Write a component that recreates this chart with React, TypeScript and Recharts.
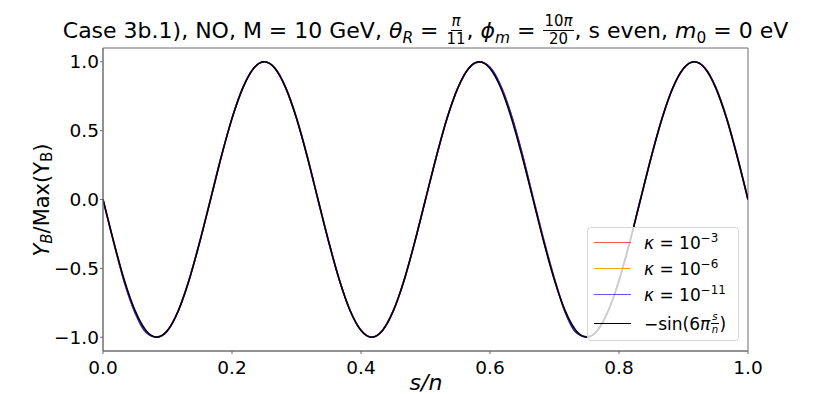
import React from 'react';
import { LineChart, Line, XAxis, YAxis, Customized, ReferenceArea } from 'recharts';

const FONT = "'DejaVu Sans', sans-serif";

// s/n sample positions
const xs = [
  0, 0.0167, 0.0333, 0.05, 0.0667, 0.0833, 0.1, 0.1167, 0.1333, 0.15,
  0.1667, 0.1833, 0.2, 0.2167, 0.2333, 0.25, 0.2667, 0.2833, 0.3, 0.3167,
  0.3333, 0.35, 0.3667, 0.3833, 0.4, 0.4167, 0.4333, 0.45, 0.4667, 0.4833,
  0.5, 0.5167, 0.5333, 0.55, 0.5667, 0.5833, 0.6, 0.6167, 0.6333, 0.65,
  0.6667, 0.6833, 0.7, 0.7167, 0.7333, 0.75, 0.7667, 0.7833, 0.8, 0.8167,
  0.8333, 0.85, 0.8667, 0.8833, 0.9, 0.9167, 0.9333, 0.95, 0.9667, 0.9833,
  1.0,
];

// kappa = 1e-3
const kappa3 = [
  0, -0.312, -0.6, -0.822, -0.962, -0.999, -0.952, -0.808, -0.586, -0.307,
  0, 0.31, 0.589, 0.81, 0.951, 1, 0.953, 0.812, 0.592, 0.312,
  0, -0.308, -0.588, -0.808, -0.95, -1, -0.951, -0.809, -0.588, -0.309,
  0, 0.309, 0.588, 0.808, 0.95, 0.999, 0.958, 0.822, 0.606, 0.326,
  0.012, -0.296, -0.578, -0.817, -0.962, -0.997, -0.949, -0.808, -0.588, -0.309,
  0, 0.309, 0.588, 0.809, 0.951, 1, 0.954, 0.814, 0.594, 0.314,
  0,
];

// kappa = 1e-6
const kappa6 = [
  0, -0.312, -0.601, -0.823, -0.963, -0.999, -0.952, -0.808, -0.586, -0.307,
  0, 0.31, 0.589, 0.81, 0.951, 1, 0.953, 0.812, 0.592, 0.312,
  0, -0.308, -0.588, -0.808, -0.95, -1, -0.951, -0.809, -0.588, -0.309,
  0, 0.309, 0.588, 0.808, 0.95, 0.999, 0.958, 0.823, 0.607, 0.327,
  0.012, -0.296, -0.578, -0.818, -0.963, -0.997, -0.949, -0.808, -0.588, -0.309,
  0, 0.309, 0.588, 0.809, 0.951, 1, 0.954, 0.814, 0.594, 0.314,
  0,
];

// kappa = 1e-11
const kappa11 = [
  0, -0.313, -0.603, -0.826, -0.965, -0.999, -0.952, -0.807, -0.586, -0.306,
  0, 0.31, 0.589, 0.81, 0.951, 1, 0.953, 0.813, 0.593, 0.313,
  0, -0.308, -0.588, -0.808, -0.95, -1, -0.951, -0.809, -0.588, -0.309,
  0, 0.309, 0.588, 0.808, 0.95, 0.999, 0.96, 0.826, 0.61, 0.33,
  0.014, -0.294, -0.577, -0.82, -0.965, -0.997, -0.949, -0.808, -0.588, -0.309,
  0, 0.309, 0.588, 0.809, 0.951, 1, 0.955, 0.815, 0.595, 0.315,
  0,
];

// -sin(6 pi s/n)
const sineRef = [
  0, -0.309, -0.588, -0.809, -0.951, -1, -0.951, -0.809, -0.588, -0.309,
  0, 0.309, 0.588, 0.809, 0.951, 1, 0.951, 0.809, 0.588, 0.309,
  0, -0.309, -0.588, -0.809, -0.951, -1, -0.951, -0.809, -0.588, -0.309,
  0, 0.309, 0.588, 0.809, 0.951, 1, 0.951, 0.809, 0.588, 0.309,
  0, -0.309, -0.588, -0.809, -0.951, -1, -0.951, -0.809, -0.588, -0.309,
  0, 0.309, 0.588, 0.809, 0.951, 1, 0.951, 0.809, 0.588, 0.309,
  0,
];

const xTicks = [0, 0.2, 0.4, 0.6, 0.8, 1.0];
const yTicks = [-1, -0.5, 0, 0.5, 1];
const xDomain: [number, number] = [0, 1];
const yDomain: [number, number] = [-1.1, 1.1];

const data = xs.map((x, i) => ({
  x,
  k3: kappa3[i],
  k6: kappa6[i],
  k11: kappa11[i],
  ref: sineRef[i],
}));

const fmt = (v: number) => {
  const s = Math.abs(v).toFixed(1);
  return v < 0 ? '\u2212' + s : s;
};

const AXIS_COLOR = '#6e6e6e';

const Frac = ({ n, d, size = 0.68 }: { n: React.ReactNode; d: React.ReactNode; size?: number }) => (
  <span
    style={{
      display: 'inline-flex',
      flexDirection: 'column',
      alignItems: 'center',
      verticalAlign: 'middle',
      fontSize: `${size}em`,
      lineHeight: 1,
      margin: '0 1px',
      position: 'relative',
      top: '-0.15em',
    }}
  >
    <span style={{ borderBottom: '1px solid black', padding: '0 1px 1px' }}>{n}</span>
    <span style={{ paddingTop: 1 }}>{d}</span>
  </span>
);

const Sub = ({ children }: { children: React.ReactNode }) => (
  <span style={{ fontSize: '0.7em', position: 'relative', top: '0.3em' }}>{children}</span>
);

const Sup = ({ children }: { children: React.ReactNode }) => (
  <span style={{ fontSize: '0.7em', position: 'relative', top: '-0.55em' }}>{children}</span>
);

const I = ({ children }: { children: React.ReactNode }) => <span style={{ fontStyle: 'italic' }}>{children}</span>;

const legendItems = [
  { color: 'rgba(255,0,0,0.65)', label: <><I>κ</I> = 10<Sup>−3</Sup></> },
  { color: 'rgb(255,165,0)', label: <><I>κ</I> = 10<Sup>−6</Sup></> },
  { color: 'rgba(0,0,255,0.65)', label: <><I>κ</I> = 10<Sup>−11</Sup></> },
  { color: '#000', label: <>−sin(6<I>π</I><Frac n={<I>s</I>} d={<I>n</I>} size={0.6} />)</> },
];
const legendRows = [15, 41, 67, 96];

const Labels = () => (
  <g fontFamily={FONT} fill="#000">
    <text transform="translate(34,192) rotate(-90)" textAnchor="middle" dominantBaseline="central" fontSize={21}>
      <tspan fontStyle="italic">Y</tspan>
      <tspan fontStyle="italic" fontSize={15} dy={5}>B</tspan>
      <tspan dy={-5}>/Max(Y</tspan>
      <tspan fontSize={15} dy={5}>B</tspan>
      <tspan dy={-5}>)</tspan>
    </text>
    <text x={418} y={382} textAnchor="middle" fontSize={22} fontStyle="italic">
      s/n
    </text>
  </g>
);

export default function App() {
  return (
    <div style={{ position: 'relative', width: 815, height: 386, fontFamily: FONT }}>
      <LineChart
        width={815}
        height={386}
        data={data}
        margin={{ top: 40, right: 75, left: 0, bottom: 0 }}
      >
        <XAxis
          dataKey="x"
          type="number"
          domain={xDomain}
          ticks={xTicks}
          tickFormatter={fmt}
          allowDataOverflow
          height={43}
          tickSize={3}
          tickMargin={7}
          stroke={AXIS_COLOR}
          tick={{ fill: '#000', fontSize: 18.5, fontFamily: FONT }}
        />
        <YAxis
          type="number"
          domain={yDomain}
          ticks={yTicks}
          tickFormatter={fmt}
          allowDataOverflow
          width={95}
          tickSize={3}
          tickMargin={1}
          stroke={AXIS_COLOR}
          tick={{ fill: '#000', fontSize: 18.5, fontFamily: FONT }}
        />
        <ReferenceArea
          x1={xDomain[0]}
          x2={xDomain[1]}
          y1={yDomain[0]}
          y2={yDomain[1]}
          fill="none"
          stroke={AXIS_COLOR}
          strokeWidth={1}
          ifOverflow="visible"
        />
        <Line dataKey="k3" type="monotone" stroke="red" strokeOpacity={0.7} strokeWidth={1.6} dot={false} isAnimationActive={false} />
        <Line dataKey="k6" type="monotone" stroke="orange" strokeWidth={1.6} dot={false} isAnimationActive={false} />
        <Line dataKey="k11" type="monotone" stroke="blue" strokeOpacity={0.8} strokeWidth={1.6} dot={false} isAnimationActive={false} />
        <Line dataKey="ref" type="monotone" stroke="#000" strokeWidth={1.5} dot={false} isAnimationActive={false} />
        <Customized component={Labels} />
      </LineChart>

      <div
        style={{
          position: 'absolute',
          left: 95,
          width: 645,
          top: 8,
          display: 'flex',
          justifyContent: 'center',
          whiteSpace: 'nowrap',
          fontSize: 22,
          lineHeight: '28px',
          color: '#000',
        }}
      >
        <span>
          Case 3b.1), NO, M = 10 GeV, <I>θ</I><Sub><I>R</I></Sub> = <Frac n={<I>π</I>} d="11" />, <I>ϕ</I>
          <Sub><I>m</I></Sub> = <Frac n={<>10<I>π</I></>} d="20" />, s even, <I>m</I><Sub>0</Sub> = 0 eV
        </span>
      </div>

      <div
        style={{
          position: 'absolute',
          left: 579,
          top: 219,
          width: 152,
          height: 114,
          boxSizing: 'border-box',
          background: 'rgba(255,255,255,0.8)',
          border: '1px solid #d6d6d6',
          borderRadius: 4,
          fontSize: 17,
          color: '#000',
        }}
      >
        {legendItems.map((it, i) => (
          <div key={i}>
            <div
              style={{
                position: 'absolute',
                left: 6,
                width: 37,
                top: legendRows[i] - 1,
                height: 0,
                borderTop: `1.5px solid ${it.color}`,
              }}
            />
            <div
              style={{
                position: 'absolute',
                left: 56,
                top: legendRows[i] - 11,
                height: 22,
                lineHeight: '22px',
                whiteSpace: 'nowrap',
              }}
            >
              {it.label}
            </div>
          </div>
        ))}
      </div>
    </div>
  );
}
